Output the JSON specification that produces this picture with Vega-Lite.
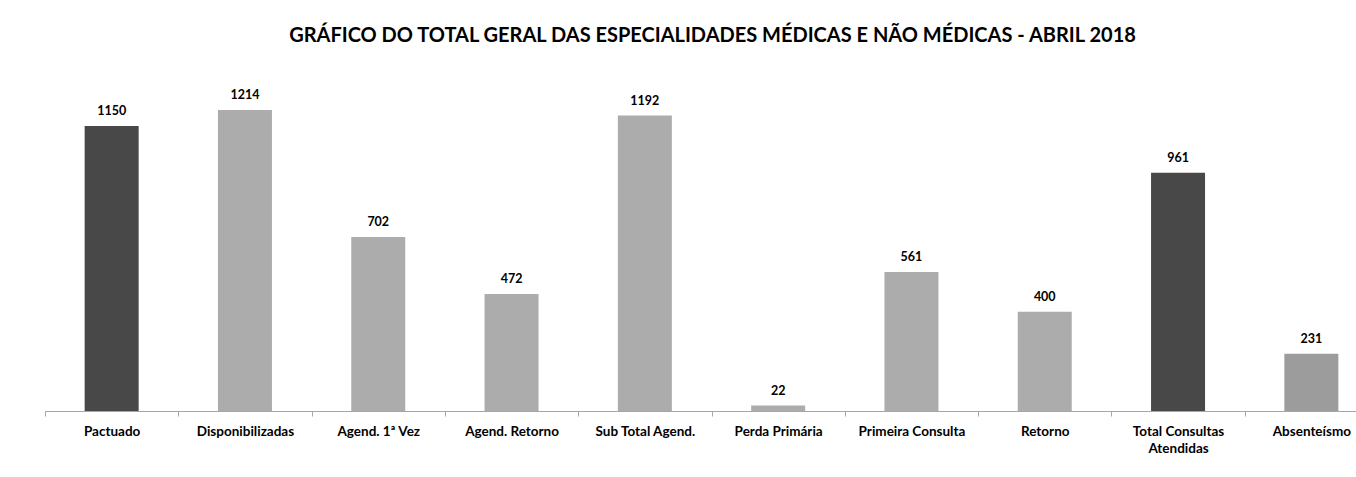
{
  "$schema": "https://vega.github.io/schema/vega-lite/v6.json",
  "autosize": {"type": "none"},
  "width": 1311,
  "height": 347,
  "padding": {"left": 45, "top": 64, "right": 0, "bottom": 66},
  "background": "white",
  "config": {"view": {"stroke": null}, "font": "Lato"},
  "title": {
    "text": "GRÁFICO DO TOTAL GERAL DAS ESPECIALIDADES MÉDICAS E NÃO MÉDICAS - ABRIL 2018",
    "fontSize": 20,
    "fontWeight": "bold",
    "font": "Lato",
    "color": "#000000",
    "anchor": "middle",
    "dx": 12,
    "offset": 18
  },
  "data": {
    "values": [
      {"categoria": "Pactuado", "valor": 1150, "tipo": "escuro"},
      {"categoria": "Disponibilizadas", "valor": 1214, "tipo": "claro"},
      {"categoria": "Agend. 1ª Vez", "valor": 702, "tipo": "claro"},
      {"categoria": "Agend. Retorno", "valor": 472, "tipo": "claro"},
      {"categoria": "Sub Total Agend.", "valor": 1192, "tipo": "claro"},
      {"categoria": "Perda Primária", "valor": 22, "tipo": "claro"},
      {"categoria": "Primeira Consulta", "valor": 561, "tipo": "claro"},
      {"categoria": "Retorno", "valor": 400, "tipo": "claro"},
      {"categoria": "Total Consultas Atendidas", "valor": 961, "tipo": "escuro"},
      {"categoria": "Absenteísmo", "valor": 231, "tipo": "medio"}
    ]
  },
  "encoding": {
    "x": {
      "field": "categoria",
      "type": "nominal",
      "sort": null,
      "scale": {"range": [0, 1333], "paddingInner": 0, "paddingOuter": 0},
      "axis": {
        "title": null,
        "labelAngle": 0,
        "labelFont": "Lato",
        "labelFontSize": 13.5,
        "labelFontWeight": "bold",
        "labelColor": "#000000",
        "labelPadding": 8,
        "labelLineHeight": 17,
        "labelExpr": "datum.label == 'Total Consultas Atendidas' ? ['Total Consultas', 'Atendidas'] : datum.label",
        "tickBand": "extent",
        "tickSize": 5,
        "tickColor": "#a6a6a6",
        "domainColor": "#a6a6a6",
        "labelLimit": 200
      }
    },
    "y": {
      "field": "valor",
      "type": "quantitative",
      "scale": {"domain": [0, 1400]},
      "axis": null
    }
  },
  "layer": [
    {
      "mark": {"type": "bar", "width": 54},
      "encoding": {
        "color": {
          "field": "tipo",
          "type": "nominal",
          "scale": {"domain": ["escuro", "claro", "medio"], "range": ["#484848", "#acacac", "#9c9c9c"]},
          "legend": null
        }
      }
    },
    {
      "mark": {"type": "text", "baseline": "bottom", "dy": -8, "font": "Lato", "fontSize": 12.5, "fontWeight": "bold", "color": "#000000"},
      "encoding": {"text": {"field": "valor", "type": "quantitative"}}
    }
  ]
}
